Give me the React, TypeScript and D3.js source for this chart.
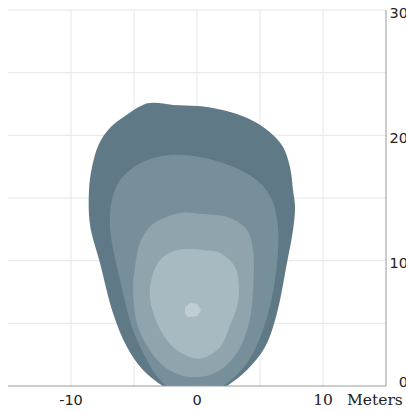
import React from 'react';
import * as d3 from 'd3';

// contour rings, [meters across, meters forward], outermost first
const ring1: [number, number][] = [
  [-3.49, 22.59], [-1.9, 22.43], [0, 22.35], [1.27, 22.19], [3.17, 21.71], [4.76, 20.99],
  [6.03, 20.03], [6.83, 19.07], [7.38, 17.48], [7.62, 15.64], [7.78, 14.29], [7.62, 12.45],
  [7.14, 9.82], [6.35, 5.83], [5.4, 3.11], [3.97, 1.28], [2.38, 0], [1.27, -0.64],
  [-1.35, -0.64], [-2.7, 0], [-4.29, 1.28], [-5.56, 3.11], [-6.67, 5.83], [-7.7, 9.82],
  [-8.49, 12.85], [-8.57, 15.64], [-8.33, 17.48], [-7.78, 19.3], [-6.9, 20.6],
  [-5.71, 21.55], [-4.29, 22.43],
];
const ring2: [number, number][] = [
  [-1.11, 18.44], [1.27, 18.04], [3.41, 17.24], [5.0, 16.2], [5.95, 14.84], [6.43, 12.61],
  [6.19, 8.46], [5.24, 4.47], [3.97, 1.84], [2.38, 0.24], [0.63, -0.56], [-1.75, -0.4],
  [-2.94, 0.48], [-3.97, 2.08], [-5.08, 4.47], [-6.11, 8.46], [-6.9, 12.61], [-6.75, 14.84],
  [-6.11, 16.44], [-4.76, 17.64], [-3.17, 18.28],
];
const ring3: [number, number][] = [
  [-1.35, 13.81], [0.48, 13.72], [2.62, 13.41], [3.97, 12.45], [4.45, 10.85], [4.45, 7.66],
  [4.13, 5.03], [3.17, 2.63], [1.59, 1.12], [0, 0.72], [-1.35, 0.88], [-2.94, 1.84],
  [-4.6, 4.47], [-5.08, 7.66], [-4.92, 9.5], [-4.44, 11.65], [-3.49, 12.93],
];
const ring4: [number, number][] = [
  [-0.79, 10.93], [0.48, 10.85], [1.83, 10.61], [3.02, 9.5], [3.33, 7.9], [3.17, 6.3],
  [2.7, 5.03], [1.83, 3.11], [0.48, 2.23], [-0.32, 2.23], [-1.9, 3.11], [-3.17, 5.03],
  [-3.73, 7.02], [-3.57, 8.7], [-2.94, 10.05], [-2.06, 10.69],
];
const ring5: [number, number][] = [
  [-0.95, 6.3], [-0.56, 6.62], [0, 6.54], [0.32, 6.07], [0, 5.59], [-0.71, 5.51], [-0.95, 5.83],
];

const rings = [ring1, ring2, ring3, ring4];
const ringColors = ['#5f7a86', '#778f9a', '#8fa4ac', '#a8bac1'];
const coreColor = '#c0ced3';

const gridX = [-10, -5, 0, 5, 10];
const gridY = [5, 10, 15, 20, 25, 30];
const xTickLabels = ['-10', '0', '10'];
const yTickLabels = ['0', '10', '20', '30'];

export default function App() {
  const x = d3.scaleLinear().domain([-15, 15]).range([8, 386]);
  const y = d3.scaleLinear().domain([0, 30]).range([386, 10]);

  const smooth = d3.line<[number, number]>()
    .x(d => x(d[0]))
    .y(d => y(d[1]))
    .curve(d3.curveCatmullRomClosed.alpha(0.5));
  const sharp = d3.line<[number, number]>()
    .x(d => x(d[0]))
    .y(d => y(d[1]))
    .curve(d3.curveLinearClosed);

  return (
    <svg width={406} height={411} style={{ position: 'absolute', left: 0, top: 0 }}>
      <defs>
        <clipPath id="plot">
          <rect x={x(-15)} y={y(30)} width={x(15) - x(-15)} height={y(0) - y(30)} />
        </clipPath>
      </defs>
      {gridX.map(v => (
        <line key={'gx' + v} x1={x(v)} x2={x(v)} y1={y(30)} y2={y(0)} stroke="#e6e6e6" strokeWidth={1} />
      ))}
      {gridY.map(v => (
        <line key={'gy' + v} x1={x(-15)} x2={x(15)} y1={y(v)} y2={y(v)} stroke="#e6e6e6" strokeWidth={1} />
      ))}
      <g clipPath="url(#plot)">
        {rings.map((r, i) => (
          <path key={i} d={smooth(r) || ''} fill={ringColors[i]} />
        ))}
        <path d={sharp(ring5) || ''} fill={coreColor} />
      </g>
      <line x1={x(-15)} x2={x(15)} y1={y(0)} y2={y(0)} stroke="#9a9a9a" strokeWidth={1} />
      <line x1={x(15)} x2={x(15)} y1={y(30)} y2={y(0)} stroke="#9a9a9a" strokeWidth={1} />
      {xTickLabels.map(t => (
        <text key={'xl' + t} x={x(+t)} y={405} textAnchor="middle"
          fontSize={t === '10' ? 15.5 : 14.5}
          fontFamily={t === '10' ? 'DejaVu Serif' : 'DejaVu Sans'} fill="#222">{t}</text>
      ))}
      <text x={347} y={405} fontSize={15.5} fontFamily="DejaVu Serif" fill="#222">Meters</text>
      {yTickLabels.map(t => (
        <text key={'yl' + t} x={408} y={t === '0' ? y(+t) + 1 : y(+t) + 7.5} textAnchor="end" fontSize={14.5}
          fontFamily="DejaVu Sans" fill="#222">{t}</text>
      ))}
    </svg>
  );
}
